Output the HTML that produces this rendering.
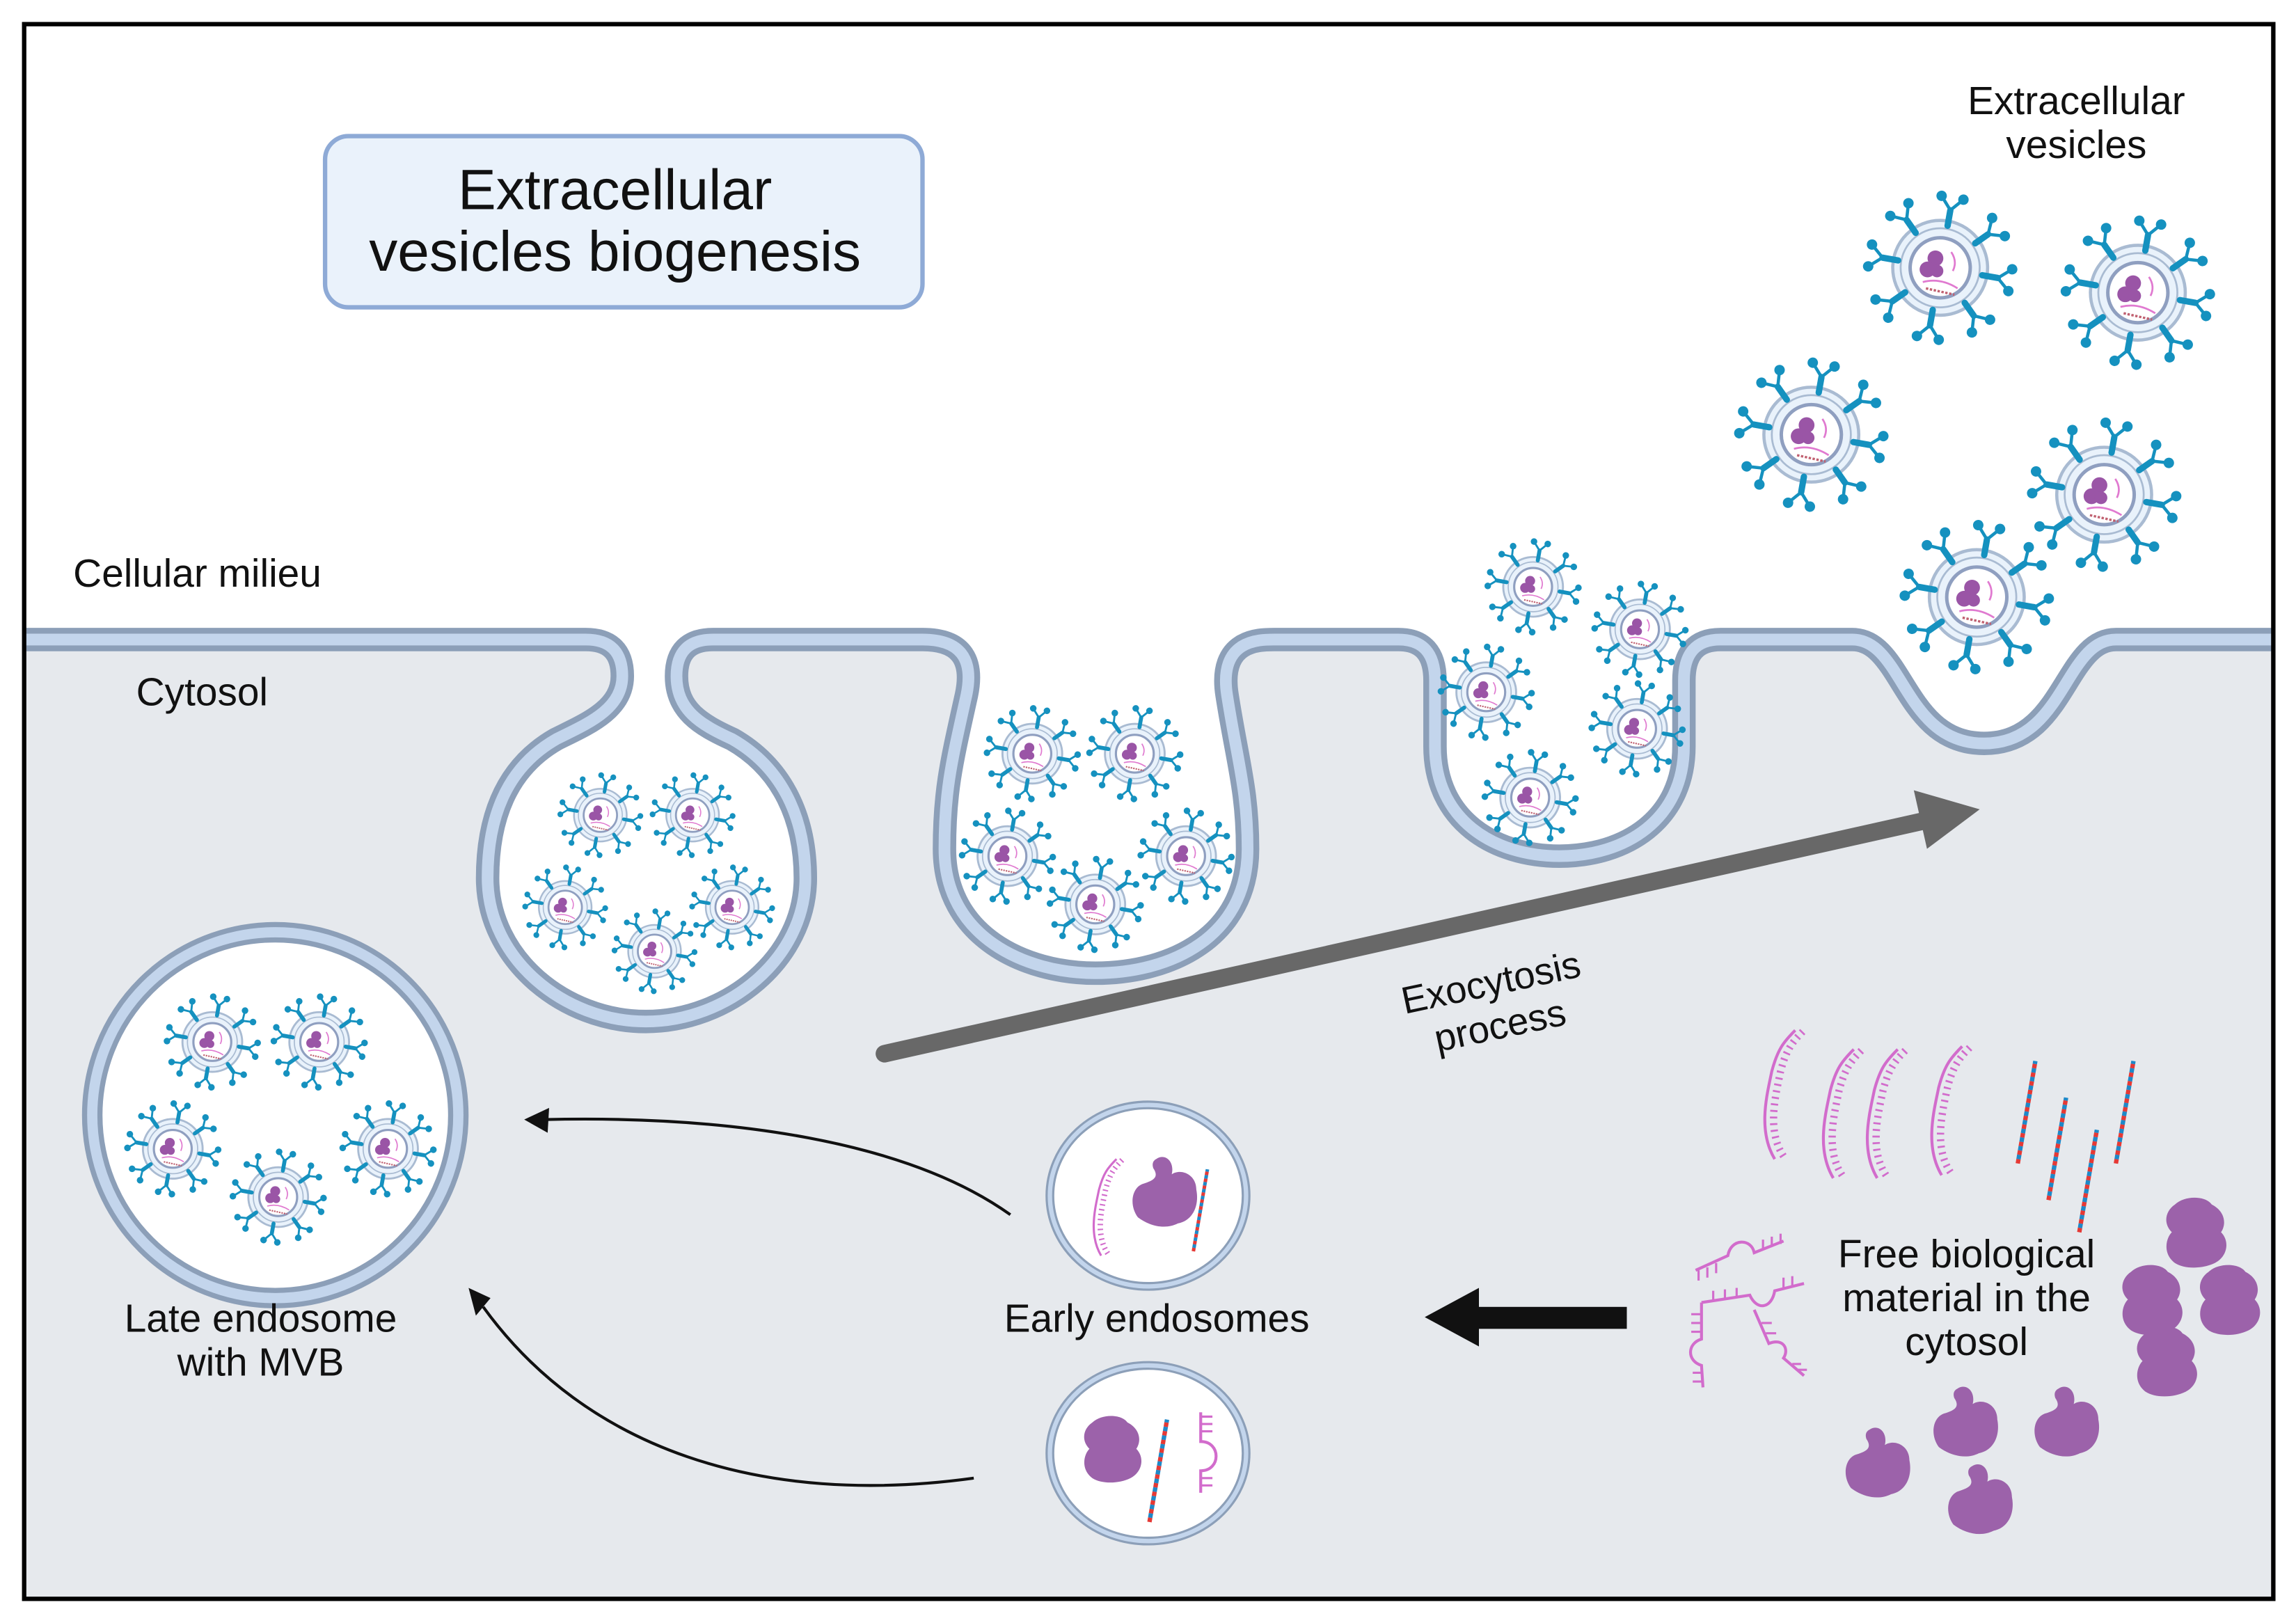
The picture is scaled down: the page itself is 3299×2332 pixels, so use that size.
<!DOCTYPE html>
<html><head><meta charset="utf-8"><style>
html,body{margin:0;padding:0;background:#fff}
svg{display:block}
text{font-family:"Liberation Sans",Arial,sans-serif;fill:#111}
</style></head><body>
<svg width="3299" height="2332" viewBox="0 0 1568 1109" preserveAspectRatio="none" xmlns="http://www.w3.org/2000/svg">
<defs>
<path id="mem" d="M18 437 L400 437 Q425 437 425 462 C425 485 400 495 380 505 C345 525 333 560 333 600 C333 655 385 698 441 698 C497 698 550 655 550 600 C550 560 535 525 500 505 C478 495 462 485 462 462 Q462 437 487 437 L630 437 Q668 437 660 475 C650 520 645 540 645 580 C645 640 700 665 748 665 C800 665 852 640 852 580 C852 540 845 520 838 475 C832 437 860 437 870 437 L955 437 Q980 437 980 465 L980 510 C980 560 1020 585 1065 585 C1110 585 1150 560 1150 510 L1150 465 Q1150 437 1175 437 L1265 437 C1300 437 1300 508 1355 508 C1410 508 1410 437 1445 437 L1553 437"/>
<g id="ab">
 <line x1="0" y1="-27" x2="0" y2="-37" stroke="#1591bf" stroke-width="4" stroke-linecap="round"/>
 <line x1="0" y1="-37" x2="-7" y2="-45" stroke="#1591bf" stroke-width="2"/>
 <line x1="0" y1="-37" x2="7" y2="-45" stroke="#1591bf" stroke-width="2"/>
 <circle cx="-7" cy="-45" r="3.3" fill="#1591bf"/>
 <circle cx="7" cy="-45" r="3.3" fill="#1591bf"/>
</g>
<g id="ev">
 <circle r="30" fill="#e9f2fb" stroke="#a9bbd2" stroke-width="2"/>
 <circle r="25" fill="none" stroke="#a9bbd2" stroke-width="1.2"/>
 <circle r="19" fill="#fff" stroke="#8f9fc0" stroke-width="2.2"/>
 <circle cx="-3" cy="-6" r="5" fill="#9a55a6"/>
 <circle cx="-8" cy="1" r="5" fill="#9a55a6"/>
 <circle cx="-2" cy="2" r="4" fill="#9a55a6"/>
 <path d="M-11 9 Q0 6 11 13" stroke="#e07ad0" stroke-width="1.2" fill="none"/>
 <path d="M-9 13 L9 17" stroke="#c06070" stroke-width="1.5" stroke-dasharray="1.5 1" fill="none"/>
 <path d="M7 -10 Q11 -4 8 2" stroke="#e07ad0" stroke-width="1.2" fill="none"/>
 <use href="#ab" transform="rotate(10)"/><use href="#ab" transform="rotate(55)"/>
 <use href="#ab" transform="rotate(100)"/><use href="#ab" transform="rotate(145)"/>
 <use href="#ab" transform="rotate(190)"/><use href="#ab" transform="rotate(235)"/>
 <use href="#ab" transform="rotate(280)"/><use href="#ab" transform="rotate(325)"/>
</g>
<path id="prot" d="M-6 -22 C0 -26 6 -20 4 -12 C10 -16 20 -12 20 -2 C22 8 18 18 8 20 C0 24 -10 22 -18 16 C-24 8 -22 -4 -14 -6 C-8 -8 -4 -10 -8 -16 C-9 -19 -8 -21 -6 -22 Z" fill="#9c62aa"/>
<path id="prot2" d="M-14 -18 C-8 -24 6 -24 10 -18 C18 -14 20 -6 16 0 C22 6 20 16 12 20 C4 24 -8 24 -14 20 C-22 14 -20 4 -16 0 C-22 -6 -20 -14 -14 -18 Z" fill="#9c62aa"/>
<g id="rna">
 <path d="M0 0 C-12 -20 -5 -45 -2 -60 C2 -75 6 -80 14 -88" fill="none" stroke="#d26ccc" stroke-width="2"/>
 <path d="M4 -2 C-8 -20 -1 -45 2 -60 C6 -75 10 -80 18 -88" fill="none" stroke="#d26ccc" stroke-width="5" stroke-dasharray="1.3 3.2" transform="translate(2,0)"/>
</g>
<g id="dna">
 <line x1="0" y1="0" x2="12" y2="-70" stroke="#e53935" stroke-width="3" stroke-dasharray="3 3"/>
 <line x1="0" y1="0" x2="12" y2="-70" stroke="#1e88c8" stroke-width="3" stroke-dasharray="3 3" stroke-dashoffset="3"/>
</g>
</defs>

<rect x="0" y="0" width="1568" height="1109" fill="#fff"/>
<path d="M18 437 L400 437 Q425 437 425 462 C425 485 400 495 380 505 C345 525 333 560 333 600 C333 655 385 698 441 698 C497 698 550 655 550 600 C550 560 535 525 500 505 C478 495 462 485 462 462 Q462 437 487 437 L630 437 Q668 437 660 475 C650 520 645 540 645 580 C645 640 700 665 748 665 C800 665 852 640 852 580 C852 540 845 520 838 475 C832 437 860 437 870 437 L955 437 Q980 437 980 465 L980 510 C980 560 1020 585 1065 585 C1110 585 1150 560 1150 510 L1150 465 Q1150 437 1175 437 L1265 437 C1300 437 1300 508 1355 508 C1410 508 1410 437 1445 437 L1553 437 L1553 1093 L18 1093 Z" fill="#e6e9ed"/>
<use href="#mem" fill="none" stroke="#8c9fb8" stroke-width="16" stroke-linejoin="round"/>
<use href="#mem" fill="none" stroke="#c3d5ec" stroke-width="8" stroke-linejoin="round"/>

<rect x="222" y="93" width="408" height="117" rx="16" fill="#eaf2fb" stroke="#8eaad6" stroke-width="3"/>
<text x="420" y="143" font-size="39" text-anchor="middle">Extracellular</text>
<text x="420" y="185" font-size="39" text-anchor="middle">vesicles biogenesis</text>

<text x="50" y="401" font-size="27">Cellular milieu</text>
<text x="93" y="482" font-size="27">Cytosol</text>
<text x="1418" y="78" font-size="27" text-anchor="middle">Extracellular</text>
<text x="1418" y="108" font-size="27" text-anchor="middle">vesicles</text>

<use href="#ev" transform="translate(1325,183) scale(1.08)"/>
<use href="#ev" transform="translate(1460,200) scale(1.08)"/>
<use href="#ev" transform="translate(1237,297) scale(1.08)"/>
<use href="#ev" transform="translate(1437,338) scale(1.08)"/>
<use href="#ev" transform="translate(1350,408) scale(1.08)"/>
<use href="#ev" transform="translate(1047,401) scale(0.68)"/>
<use href="#ev" transform="translate(1120,430) scale(0.68)"/>
<use href="#ev" transform="translate(1015,473) scale(0.68)"/>
<use href="#ev" transform="translate(1118,498) scale(0.68)"/>
<use href="#ev" transform="translate(1045,545) scale(0.68)"/>
<use href="#ev" transform="translate(705,515) scale(0.68)"/>
<use href="#ev" transform="translate(775,515) scale(0.68)"/>
<use href="#ev" transform="translate(688,585) scale(0.68)"/>
<use href="#ev" transform="translate(748,618) scale(0.68)"/>
<use href="#ev" transform="translate(810,585) scale(0.68)"/>
<use href="#ev" transform="translate(410,557) scale(0.6)"/>
<use href="#ev" transform="translate(473,557) scale(0.6)"/>
<use href="#ev" transform="translate(386,620) scale(0.6)"/>
<use href="#ev" transform="translate(447,650) scale(0.6)"/>
<use href="#ev" transform="translate(500,620) scale(0.6)"/>

<circle cx="188" cy="762" r="125" fill="#fff" stroke="#8c9fb8" stroke-width="14"/>
<circle cx="188" cy="762" r="125" fill="none" stroke="#c3d5ec" stroke-width="7"/>
<use href="#ev" transform="translate(145,712) scale(0.68)"/>
<use href="#ev" transform="translate(218,712) scale(0.68)"/>
<use href="#ev" transform="translate(118,785) scale(0.68)"/>
<use href="#ev" transform="translate(190,818) scale(0.68)"/>
<use href="#ev" transform="translate(265,785) scale(0.68)"/>
<text x="178" y="910" font-size="27" text-anchor="middle">Late endosome</text>
<text x="178" y="940" font-size="27" text-anchor="middle">with MVB</text>

<line x1="604" y1="720" x2="1318" y2="560" stroke="#686868" stroke-width="12" stroke-linecap="round"/>
<polygon points="1352,553 1307,540 1316,580" fill="#686868"/>
<g transform="translate(1020,680) rotate(-12)">
<text x="0" y="0" font-size="26" text-anchor="middle">Exocytosis</text>
<text x="0" y="30" font-size="26" text-anchor="middle">process</text>
</g>

<ellipse cx="784" cy="817" rx="67" ry="62" fill="#fff" stroke="#8c9fb8" stroke-width="6"/>
<ellipse cx="784" cy="817" rx="67" ry="62" fill="none" stroke="#c3d5ec" stroke-width="3"/>
<ellipse cx="784" cy="993" rx="67" ry="60" fill="#fff" stroke="#8c9fb8" stroke-width="6"/>
<ellipse cx="784" cy="993" rx="67" ry="60" fill="none" stroke="#c3d5ec" stroke-width="3"/>
<use href="#rna" transform="translate(752,858) scale(0.75)"/>
<use href="#prot" transform="translate(796,815) scale(1.05)"/>
<use href="#dna" transform="translate(815,855) scale(0.8)"/>
<use href="#prot2" transform="translate(760,990) scale(1)"/>
<use href="#dna" transform="translate(785,1040) scale(1.0)"/>
<path d="M820 965 L820 985 C834 985 834 1005 820 1005 L820 1020" fill="none" stroke="#d26ccc" stroke-width="2"/>
<path d="M820 968 h8 M820 973 h8 M820 978 h8 M820 1010 h8 M820 1015 h8" stroke="#d26ccc" stroke-width="1.5"/>
<text x="790" y="910" font-size="27" text-anchor="middle">Early endosomes</text>

<path d="M690 830 C620 780 500 762 372 765" fill="none" stroke="#111" stroke-width="2"/>
<polygon points="358,765 375,757 374,774" fill="#111"/>
<path d="M665 1010 C520 1030 400 990 330 893" fill="none" stroke="#111" stroke-width="2"/>
<polygon points="320,880 335,887 325,899" fill="#111"/>

<rect x="1005" y="893" width="106" height="15" fill="#111"/>
<polygon points="973,900 1010,880 1010,920" fill="#111"/>

<use href="#rna" transform="translate(1212,792) scale(1)"/>
<use href="#rna" transform="translate(1252,805) scale(1)"/>
<use href="#rna" transform="translate(1282,805) scale(1)"/>
<use href="#rna" transform="translate(1326,803) scale(1)"/>
<use href="#dna" transform="translate(1378,795) scale(1)"/>
<use href="#dna" transform="translate(1399,820) scale(1)"/>
<use href="#dna" transform="translate(1420,842) scale(1)"/>
<use href="#dna" transform="translate(1445,795) scale(1)"/>
<g fill="none" stroke="#d26ccc" stroke-width="2">
<path d="M1158 868 L1180 858 C1182 846 1196 846 1198 856 L1218 848"/>
<path d="M1162 890 L1162 915 C1152 918 1152 930 1162 933 L1163 948"/>
<path d="M1162 890 L1195 885 C1200 896 1210 894 1212 882 L1232 877"/>
<path d="M1198 895 L1208 918 C1218 914 1222 922 1218 928 L1232 940"/>
</g>
<g stroke="#d26ccc" stroke-width="1.5">
<path d="M1160 868 v7 M1166 866 v7 M1172 863 v7 M1204 854 v-7 M1210 852 v-7 M1216 850 v-7 M1162 898 h-7 M1162 904 h-7 M1162 910 h-7 M1163 938 h-7 M1163 944 h-7 M1170 889 v-7 M1178 888 v-7 M1186 887 v-7 M1218 880 v-7 M1224 879 v-7 M1203 904 h7 M1206 911 h7 M1224 932 h6 M1228 936 h6"/>
</g>
<text x="1343" y="866" font-size="27" text-anchor="middle">Free biological</text>
<text x="1343" y="896" font-size="27" text-anchor="middle">material in the</text>
<text x="1343" y="926" font-size="27" text-anchor="middle">cytosol</text>
<use href="#prot2" transform="translate(1500,842) scale(1.05)"/>
<use href="#prot2" transform="translate(1470,888) scale(1.05)"/>
<use href="#prot2" transform="translate(1523,888) scale(1.05)"/>
<use href="#prot2" transform="translate(1480,930) scale(1.05)"/>
<use href="#prot" transform="translate(1283,1000) scale(1.05)"/>
<use href="#prot" transform="translate(1343,972) scale(1.05)"/>
<use href="#prot" transform="translate(1412,972) scale(1.05)"/>
<use href="#prot" transform="translate(1353,1025) scale(1.05)"/>

<rect x="16.5" y="16.5" width="1536" height="1076" fill="none" stroke="#000" stroke-width="3"/>
</svg>
</body></html>
